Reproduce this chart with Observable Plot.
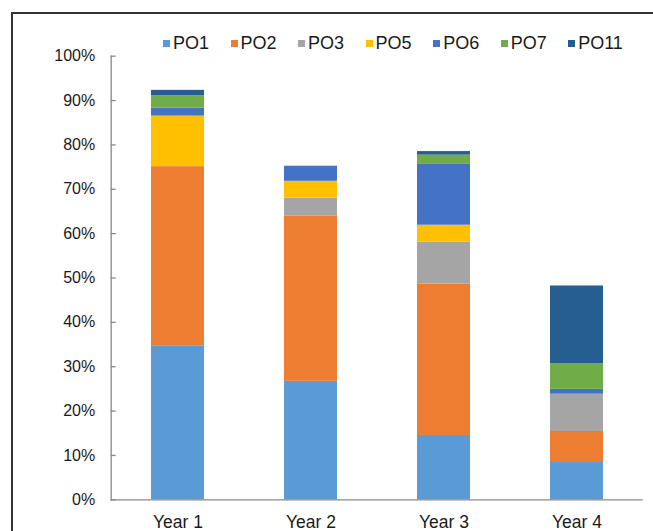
<!DOCTYPE html>
<html><head><meta charset="utf-8">
<script src="https://cdn.jsdelivr.net/npm/d3@7"></script>
<script src="https://cdn.jsdelivr.net/npm/@observablehq/plot@0.6"></script>
<style>
body{margin:0;background:#fff;}
#wrap{position:relative;width:653px;height:531px;overflow:hidden;font-family:"Liberation Sans",Arial,sans-serif;background:#fff;}
#chart{position:absolute;left:0;top:0;}
#border{position:absolute;left:11px;top:12px;width:800px;height:800px;border-left:2px solid #333;border-top:2px solid #333;pointer-events:none;}
#legend{position:absolute;left:163px;top:27px;}
.lg-swatches{margin:0 !important;}
.lg-swatch{margin-right:21.5px !important;}
.lg-swatch > svg{margin-right:3px !important;}
</style></head>
<body><div id="wrap"><div id="chart"></div><div id="legend"></div><div id="border"></div></div>
<script>
const years = ["Year 1", "Year 2", "Year 3", "Year 4"];
const series = ["PO1", "PO2", "PO3", "PO5", "PO6", "PO7", "PO11"];
const colors = ["#5B9BD5", "#ED7D31", "#A5A5A5", "#FFC000", "#4472C4", "#70AD47", "#255E91"];
const PO1 = [34.6, 26.7, 14.5, 8.4];
const PO2 = [40.5, 37.3, 34.1, 7.0];
const PO3 = [0, 4.0, 9.5, 8.4];
const PO5 = [11.4, 3.8, 3.8, 0];
const PO6 = [1.8, 3.4, 13.7, 1.1];
const PO7 = [2.8, 0, 2.1, 5.8];
const PO11 = [1.2, 0, 0.8, 17.5];
const yTicks = [0, 10, 20, 30, 40, 50, 60, 70, 80, 90, 100];

const values = [PO1, PO2, PO3, PO5, PO6, PO7, PO11];
const data = years.flatMap((yr, i) => series.map((s, j) => ({year: yr, series: s, value: values[j][i]})));
const font = '"Liberation Sans", Arial, sans-serif';

const chart = Plot.plot({
  width: 653, height: 531,
  marginTop: 55.7, marginBottom: 31.7, marginLeft: 110.7, marginRight: 10.3,
  style: {fontFamily: font, fontSize: "16px", color: "#1a1a1a", background: "transparent"},
  x: {domain: years, paddingInner: 0.6, paddingOuter: 0.3, label: null},
  y: {domain: [0, 100], label: null},
  color: {domain: series, range: colors},
  marks: [
    Plot.barY(data, {x: "year", y: "value", fill: "series"}),
    Plot.ruleY([0], {stroke: "#898989", strokeWidth: 1.3}),
    Plot.frame({anchor: "left", stroke: "#898989", strokeWidth: 1.3}),
    Plot.axisY({ticks: yTicks, tickSize: 5, dx: 5, tickFormat: () => "", stroke: "#898989", strokeWidth: 1.3, label: null}),
    Plot.axisY({ticks: yTicks, tickSize: 0, tickPadding: 16, tickFormat: d => d + "%", fontSize: 16, fill: "#1a1a1a", label: null}),
    Plot.axisX({tickSize: 0, tickPadding: 16, fontSize: 17.5, fill: "#1a1a1a", label: null})
  ]
});
document.getElementById("chart").appendChild(chart);

const legend = Plot.legend({
  color: {domain: series, range: colors},
  swatchSize: 7,
  className: "lg",
  style: {fontFamily: font, fontSize: "18px", color: "#1a1a1a"}
});
document.getElementById("legend").appendChild(legend);
</script>
</body></html>
